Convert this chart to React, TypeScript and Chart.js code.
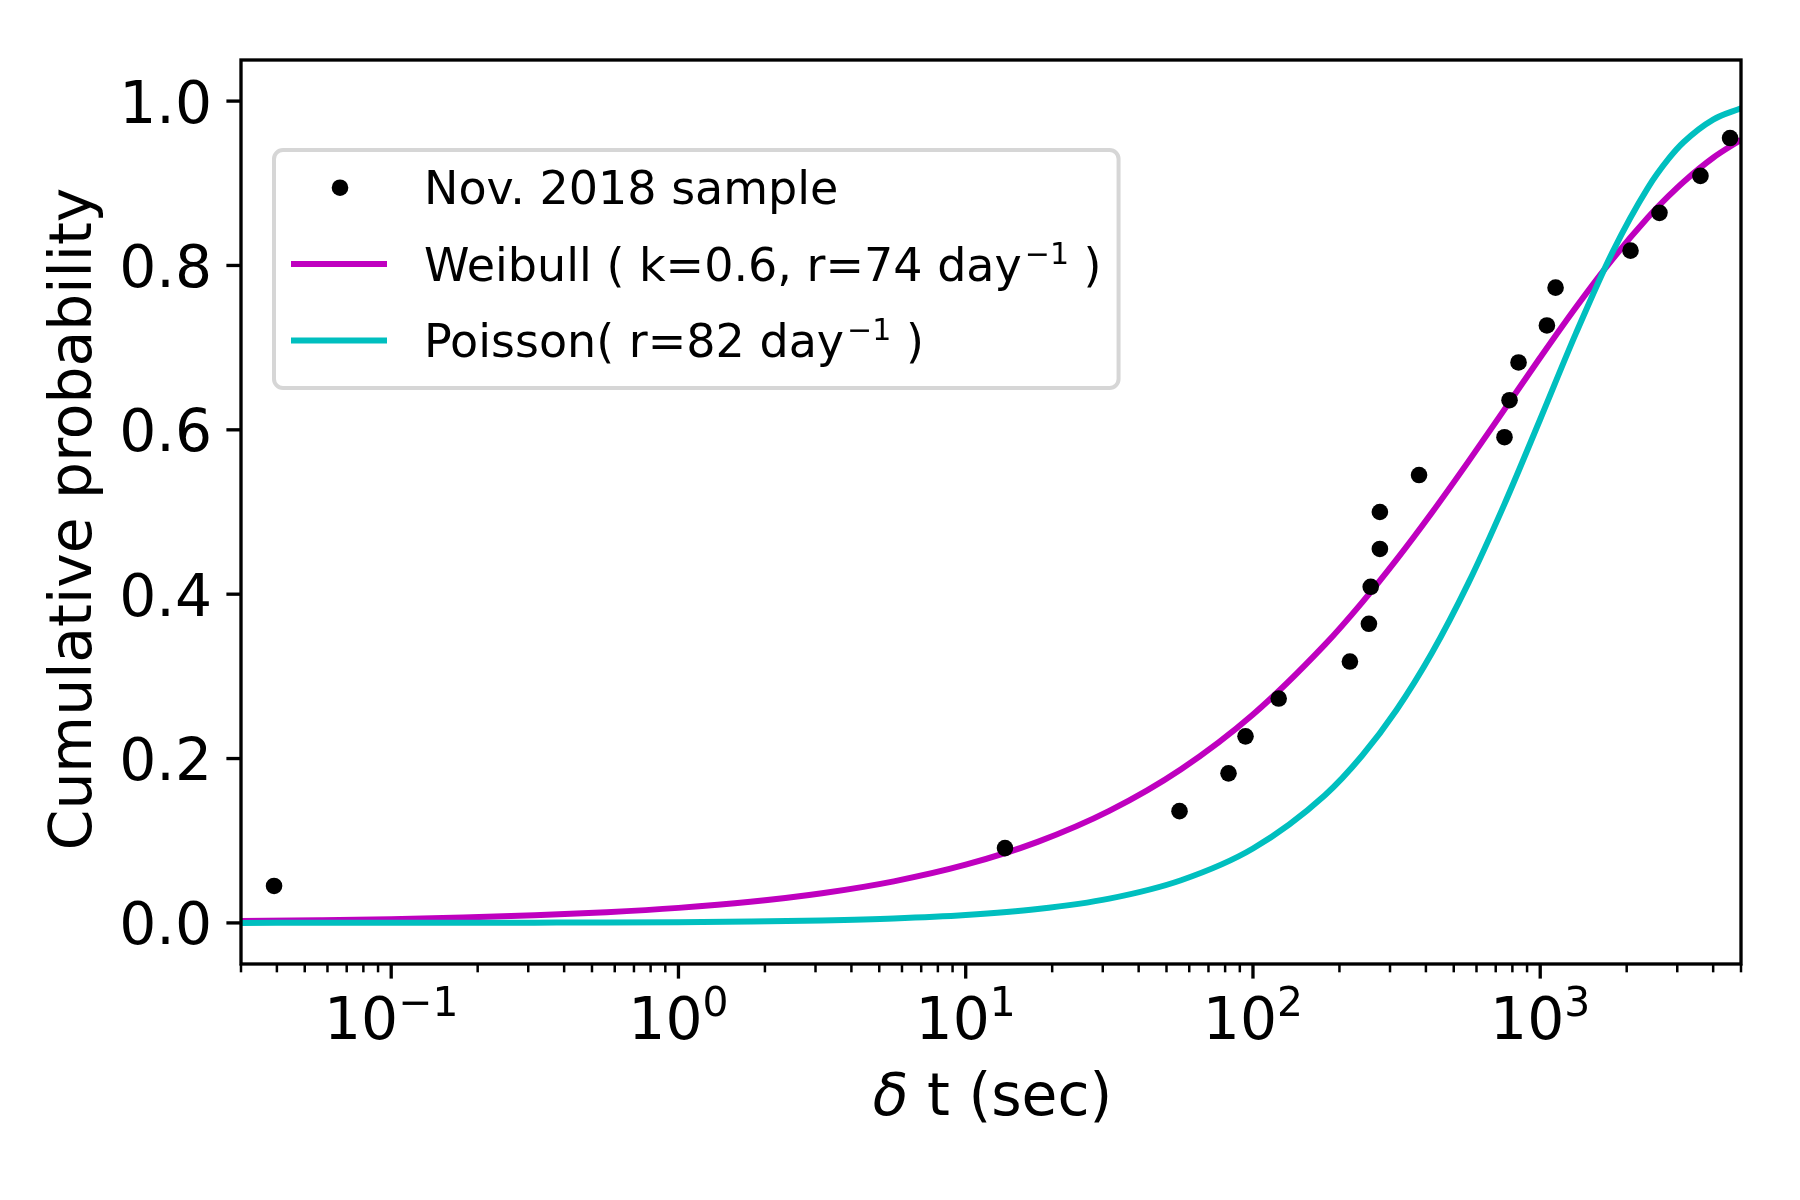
import React, { useEffect, useRef } from "react";
import { Chart, registerables } from "chart.js";

Chart.register(...registerables);

// ---- data ----
const sampleDt = [0.0391, 13.7, 55.5, 82.2, 94.2, 122.9, 217.5, 253.3, 257, 276.6, 276.6, 378.6, 751, 782, 840.5, 1055, 1131, 2062, 2601, 3612, 4581];
const sampleCdf = [0.045, 0.091, 0.136, 0.182, 0.227, 0.273, 0.318, 0.364, 0.409, 0.455, 0.5, 0.545, 0.591, 0.636, 0.682, 0.727, 0.773, 0.818, 0.864, 0.909, 0.955];

const curveDt = [0.03, 0.0562, 0.1, 0.178, 0.316, 0.562, 1, 1.78, 3.16, 5.62, 10, 17.8, 31.6, 56.2, 100, 178, 240, 316, 420, 562, 750, 1000, 1330, 1780, 2370, 2800, 3160, 4000, 5000];
const weibullCdf = [0.0022, 0.0033, 0.0046, 0.0065, 0.0092, 0.013, 0.0183, 0.0257, 0.0361, 0.0506, 0.0708, 0.0986, 0.1363, 0.187, 0.2536, 0.3386, 0.3901, 0.442, 0.4994, 0.5613, 0.6246, 0.6879, 0.7488, 0.8071, 0.8583, 0.8846, 0.902, 0.9311, 0.953];
const poissonCdf = [0.0, 0.0001, 0.0001, 0.0002, 0.0003, 0.0005, 0.0009, 0.0017, 0.003, 0.0053, 0.0095, 0.0168, 0.0295, 0.0519, 0.0905, 0.1554, 0.2037, 0.2591, 0.3287, 0.4134, 0.5093, 0.6129, 0.717, 0.8154, 0.8945, 0.9299, 0.9502, 0.9775, 0.9913];

const yTicks = [0, 0.2, 0.4, 0.6, 0.8, 1.0];
const yTickLabels = ["0.0", "0.2", "0.4", "0.6", "0.8", "1.0"];
const xDecades = [-1, 0, 1, 2, 3];
const xMin = 0.03;
const xMax = 5000;
const yMin = -0.05;
const yMax = 1.05;

const xTitle = ["\u03b4", " t (sec)"];
const yTitle = "Cumulative probability";
const legendText: string[][] = [
  ["Nov. 2018 sample"],
  ["Weibull ( k=0.6, r=74 day", "\u22121", " )"],
  ["Poisson( r=82 day", "\u22121", " )"],
];

const BLACK = "#000000";
const MAGENTA = "#bf00bf";
const CYAN = "#00bfbf";
const FAMILY = '"DejaVu Sans"';
const F = 58.33; // 14pt @ 300 dpi
const LF = 46; // legend font
const LSUP = 30; // legend superscript font
const SUP_GAP = 3;

const decorPlugin = {
  id: "mplDecor",
  afterDraw(chart: any) {
    const ctx: CanvasRenderingContext2D = chart.ctx;
    const { left, right, top, bottom } = chart.chartArea;
    const xs = chart.scales.x;
    const ys = chart.scales.y;
    ctx.save();
    ctx.strokeStyle = BLACK;
    ctx.fillStyle = BLACK;
    ctx.lineCap = "butt";

    const seg = (x1: number, y1: number, x2: number, y2: number, w: number) => {
      ctx.lineWidth = w;
      ctx.beginPath();
      ctx.moveTo(x1, y1);
      ctx.lineTo(x2, y2);
      ctx.stroke();
    };

    // x major ticks
    for (const d of xDecades) {
      const px = xs.getPixelForValue(Math.pow(10, d));
      seg(px, bottom, px, bottom + 14.6, 3.33);
    }
    // x minor ticks
    for (let d = -2; d <= 3; d++) {
      for (let m = 2; m <= 9; m++) {
        const v = m * Math.pow(10, d);
        if (v < xMin * 0.999 || v > xMax * 1.001) continue;
        const px = xs.getPixelForValue(v);
        seg(px, bottom, px, bottom + 8.33, 2.5);
      }
    }
    // y ticks + labels
    ctx.textBaseline = "alphabetic";
    ctx.font = `${F}px ${FAMILY}`;
    yTicks.forEach((v, i) => {
      const py = ys.getPixelForValue(v);
      seg(left - 14.6, py, left, py, 3.33);
      ctx.textAlign = "right";
      ctx.fillText(yTickLabels[i], left - 29, py + 21.5);
    });
    // frame
    ctx.lineWidth = 3.33;
    ctx.strokeRect(left, top, right - left, bottom - top);

    // x tick labels 10^d
    ctx.textAlign = "left";
    for (const d of xDecades) {
      const px = xs.getPixelForValue(Math.pow(10, d));
      const base = "10";
      const ex = d < 0 ? "\u2212" + String(-d) : String(d);
      ctx.font = `${F}px ${FAMILY}`;
      const wb = ctx.measureText(base).width;
      ctx.font = `${F * 0.7}px ${FAMILY}`;
      const we = ctx.measureText(ex).width;
      const x0 = px - (wb + we) / 2;
      ctx.font = `${F}px ${FAMILY}`;
      ctx.fillText(base, x0, bottom + 75.3);
      ctx.font = `${F * 0.7}px ${FAMILY}`;
      ctx.fillText(ex, x0 + wb, bottom + 51.7);
    }

    // x title
    ctx.font = `italic ${F}px ${FAMILY}`;
    const wd = ctx.measureText(xTitle[0]).width;
    ctx.font = `${F}px ${FAMILY}`;
    const wr = ctx.measureText(xTitle[1]).width;
    const tx0 = (left + right) / 2 + 1.5 - (wd + wr) / 2;
    ctx.font = `italic ${F}px ${FAMILY}`;
    ctx.fillText(xTitle[0], tx0, bottom + 151);
    ctx.font = `${F}px ${FAMILY}`;
    ctx.fillText(xTitle[1], tx0 + wd, bottom + 151);

    // y title
    ctx.save();
    ctx.translate(90.7, (top + bottom) / 2 + 7);
    ctx.rotate(-Math.PI / 2);
    ctx.textAlign = "center";
    ctx.font = `${F}px ${FAMILY}`;
    ctx.fillText(yTitle, 0, 0);
    ctx.restore();

    // legend
    ctx.textAlign = "left";
    const textX = 424;
    const baselines = [204, 280.5, 357];
    const widthOf = (parts: string[]) => {
      let w = 0;
      parts.forEach((p, i) => {
        const sup = i === 1;
        ctx.font = sup ? `${LSUP}px ${FAMILY}` : `${LF}px ${FAMILY}`;
        w += ctx.measureText(p).width + (sup ? SUP_GAP : 0);
      });
      return w;
    };
    let maxW = 0;
    for (const parts of legendText) maxW = Math.max(maxW, widthOf(parts));
    const bx = 274;
    const by = 150;
    const bw = textX + maxW + 17 - bx;
    const bh = 388 - by;
    ctx.beginPath();
    ctx.roundRect(bx, by, bw, bh, 9);
    ctx.fillStyle = "#ffffff";
    ctx.fill();
    ctx.lineWidth = 4;
    ctx.strokeStyle = "#d6d6d6";
    ctx.stroke();

    // handles
    ctx.fillStyle = BLACK;
    ctx.beginPath();
    ctx.arc(340, baselines[0] - 16.3, 8.3, 0, Math.PI * 2);
    ctx.fill();
    ctx.strokeStyle = MAGENTA;
    seg(291, baselines[1] - 16.5, 387, baselines[1] - 16.5, 6);
    ctx.strokeStyle = CYAN;
    seg(291, baselines[2] - 16.5, 387, baselines[2] - 16.5, 6);

    ctx.fillStyle = BLACK;
    legendText.forEach((parts, r) => {
      let x = textX;
      parts.forEach((p, i) => {
        const sup = i === 1;
        ctx.font = sup ? `${LSUP}px ${FAMILY}` : `${LF}px ${FAMILY}`;
        if (sup) x += SUP_GAP;
        ctx.fillText(p, x, baselines[r] - (sup ? 16.6 : 0));
        x += ctx.measureText(p).width;
      });
    });

    ctx.restore();
  },
};

export default function App() {
  const canvasRef = useRef<HTMLCanvasElement | null>(null);

  useEffect(() => {
    const canvas = canvasRef.current;
    if (!canvas) return;
    Chart.defaults.font.family = "DejaVu Sans";
    const chart = new Chart(canvas, {
      type: "scatter",
      data: {
        datasets: [
          {
            label: legendText[0].join(""),
            data: sampleDt.map((x, i) => ({ x, y: sampleCdf[i] })),
            showLine: false,
            pointRadius: 8.3,
            pointHoverRadius: 8.3,
            pointBackgroundColor: BLACK,
            pointBorderWidth: 0,
            pointBorderColor: BLACK,
            order: 0,
            clip: false as any,
          },
          {
            label: legendText[1].join(""),
            data: curveDt.map((x, i) => ({ x, y: weibullCdf[i] })),
            showLine: true,
            pointRadius: 0,
            pointHoverRadius: 0,
            borderColor: MAGENTA,
            backgroundColor: MAGENTA,
            borderWidth: 6,
            cubicInterpolationMode: "monotone",
            fill: false,
            order: 2,
          },
          {
            label: legendText[2].join(""),
            data: curveDt.map((x, i) => ({ x, y: poissonCdf[i] })),
            showLine: true,
            pointRadius: 0,
            pointHoverRadius: 0,
            borderColor: CYAN,
            backgroundColor: CYAN,
            borderWidth: 6,
            cubicInterpolationMode: "monotone",
            fill: false,
            order: 1,
          },
        ],
      },
      options: {
        animation: false,
        responsive: false,
        devicePixelRatio: 1,
        events: [],
        layout: { padding: { left: 0, top: 60, right: 59, bottom: 0 } },
        plugins: {
          legend: { display: false },
          tooltip: { enabled: false },
        },
        scales: {
          x: {
            type: "logarithmic",
            min: xMin,
            max: xMax,
            grid: { display: false },
            border: { display: false },
            ticks: { display: false },
            afterFit: (scale: any) => {
              scale.height = 236;
            },
          },
          y: {
            type: "linear",
            min: yMin,
            max: yMax,
            grid: { display: false },
            border: { display: false },
            afterBuildTicks: (scale: any) => {
              scale.ticks = yTicks.map((v) => ({ value: v }));
            },
            ticks: { display: false },
            afterFit: (scale: any) => {
              scale.width = 241;
            },
          },
        },
      } as any,
      plugins: [decorPlugin],
    });
    return () => chart.destroy();
  }, []);

  return (
    <div style={{ position: "fixed", left: 0, top: 0, width: 1800, height: 1200, background: "#ffffff" }}>
      <canvas ref={canvasRef} width={1800} height={1200} style={{ display: "block", width: 1800, height: 1200 }} />
    </div>
  );
}
